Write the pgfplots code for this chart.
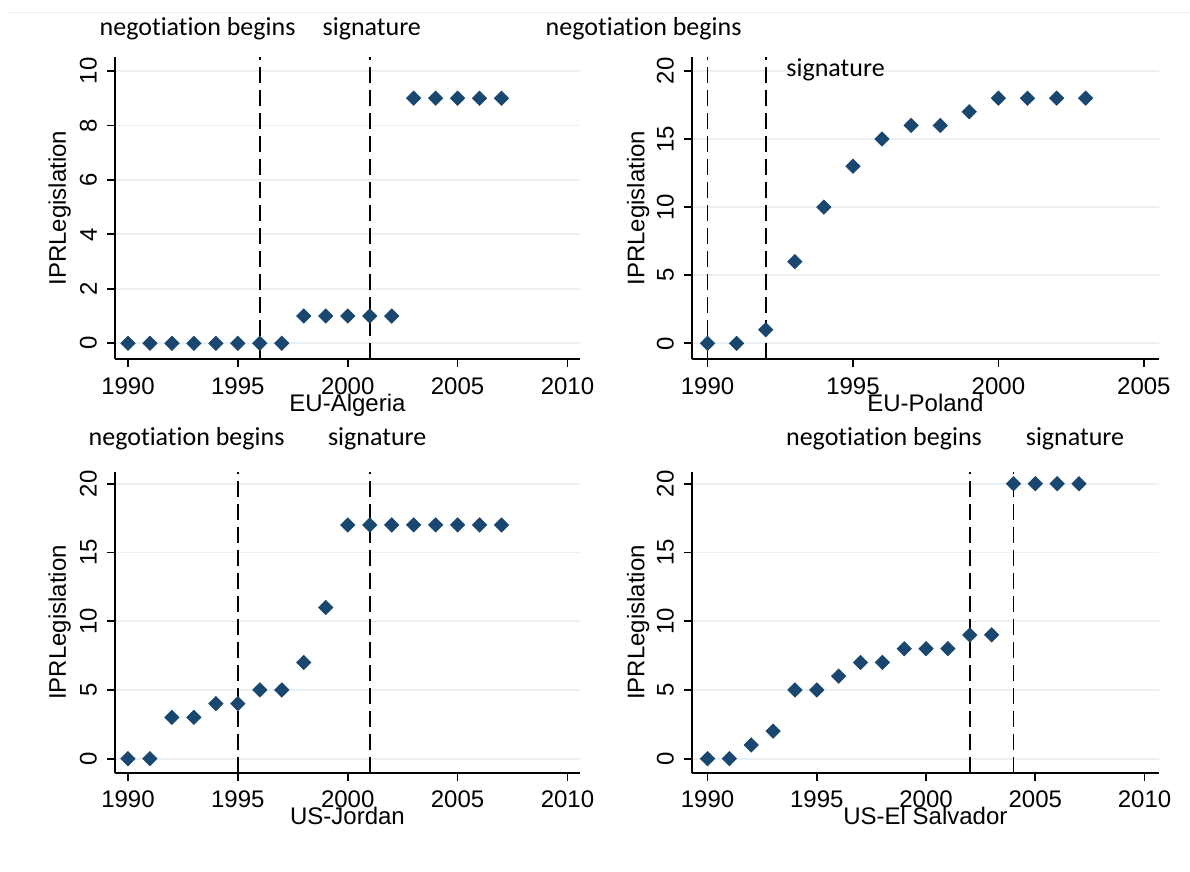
\documentclass[border=0pt]{standalone}
\usepackage{pgfplots}
\pgfplotsset{compat=1.18}
\usepackage{fontspec}
\setmainfont{Liberation Sans}
\newfontfamily\calfont[Ligatures=CommonOff]{Carlito}
\definecolor{stblue}{RGB}{26,71,111}
\definecolor{stgrid}{RGB}{234,240,244}
\pgfplotsset{
  panel/.style={
    scale only axis,
    anchor=south west,
    axis x line*=bottom, axis y line*=left,
    axis line style={line width=0.9pt, -},
    tick style={line width=0.9pt, black},
    major tick length=4pt,
    tick align=outside,
    ymajorgrids, grid style={stgrid, line width=0.9pt},
    /pgf/number format/1000 sep={},
    /pgf/number format/assume math mode=true,
    tick label style={font=\fontsize{12}{14}\selectfont},
    yticklabel style={rotate=90, anchor=south},
    xticklabel shift=1.5pt,
    yticklabel shift=1.5pt,
    clip=false,
  },
  pts/.style={only marks, mark=square*, mark size=2.5pt, color=stblue,
    mark options={rotate=45, fill=stblue, draw=stblue}},
  evt/.style={black, line width=0.9pt, dash pattern=on 8pt off 3.5pt, mark=none},
}
\begin{document}
\begin{tikzpicture}
\path[use as bounding box, fill=white] (0,0) rectangle (595pt,436pt);
\draw[stgrid, line width=0.6pt] (3.5pt,429.6pt) -- (595pt,429.6pt);

% EU-Algeria
\begin{axis}[panel, at={(57.5pt,256.35pt)}, width=232.5pt, height=151pt,
  xmin=1989.41, xmax=2010.57, ymin=-0.588, ymax=10.503,
  xtick={1990,1995,...,2010}, ytick={0,2,...,10}]
\addplot[evt] coordinates {(1996,-0.588) (1996,10.503)};
\addplot[evt] coordinates {(2001,-0.588) (2001,10.503)};
\addplot[pts] coordinates {(1990,0) (1991,0) (1992,0) (1993,0) (1994,0) (1995,0) (1996,0) (1997,0)
 (1998,1) (1999,1) (2000,1) (2001,1) (2002,1)
 (2003,9) (2004,9) (2005,9) (2006,9) (2007,9)};
\end{axis}

% EU-Poland
\begin{axis}[panel, at={(345.9pt,256.35pt)}, width=233.6pt, height=151pt,
  xmin=1989.46, xmax=2005.52, ymin=-1.17, ymax=21.0,
  xtick={1990,1995,...,2005}, ytick={0,5,...,20}]
\addplot[evt] coordinates {(1990,-1.17) (1990,21.0)};
\addplot[evt] coordinates {(1992,-1.17) (1992,21.0)};
\addplot[pts] coordinates {(1990,0) (1991,0) (1992,1) (1993,6) (1994,10) (1995,13) (1996,15)
 (1997,16) (1998,16) (1999,17) (2000,18) (2001,18) (2002,18) (2003,18)};
\end{axis}

% US-Jordan
\begin{axis}[panel, at={(57.5pt,49.65pt)}, width=232.5pt, height=150.2pt,
  xmin=1989.41, xmax=2010.57, ymin=-1.02, ymax=20.83,
  xtick={1990,1995,...,2010}, ytick={0,5,...,20}]
\addplot[evt] coordinates {(1995,-1.02) (1995,20.83)};
\addplot[evt] coordinates {(2001,-1.02) (2001,20.83)};
\addplot[pts] coordinates {(1990,0) (1991,0) (1992,3) (1993,3) (1994,4) (1995,4) (1996,5)
 (1997,5) (1998,7) (1999,11) (2000,17) (2001,17) (2002,17) (2003,17) (2004,17)
 (2005,17) (2006,17) (2007,17)};
\end{axis}

% US-El Salvador
\begin{axis}[panel, at={(345.9pt,49.65pt)}, width=233.6pt, height=150.2pt,
  xmin=1989.28, xmax=2010.66, ymin=-1.02, ymax=20.83,
  xtick={1990,1995,...,2010}, ytick={0,5,...,20}]
\addplot[evt] coordinates {(2002,-1.02) (2002,20.83)};
\addplot[evt] coordinates {(2004,-1.02) (2004,20.83)};
\addplot[pts] coordinates {(1990,0) (1991,0) (1992,1) (1993,2) (1994,5) (1995,5) (1996,6)
 (1997,7) (1998,7) (1999,8) (2000,8) (2001,8) (2002,9) (2003,9)
 (2004,20) (2005,20) (2006,20) (2007,20)};
\end{axis}

% annotations
\begin{scope}[every node/.style={font=\calfont\fontsize{13}{15}\selectfont, anchor=base, inner sep=0pt}]
\node at (98.8pt,418pt) {negotiation begins};
\node at (185.9pt,418pt) {signature};
\node at (321.8pt,418pt) {negotiation begins};
\node at (417.8pt,397.5pt) {signature};
\node at (93.3pt,213pt) {negotiation begins};
\node at (188.6pt,213pt) {signature};
\node at (442pt,213pt) {negotiation begins};
\node at (537.5pt,213pt) {signature};
\end{scope}

\begin{scope}[every node/.style={font=\fontsize{12}{14}\selectfont, anchor=base, inner sep=0pt}]
\node at (173.75pt,230.2pt) {EU-Algeria};
\node at (462.7pt,230.2pt) {EU-Poland};
\node at (173.75pt,23.5pt) {US-Jordan};
\node at (462.7pt,23.5pt) {US-El Salvador};
\node[rotate=90] at (32.9pt,331.85pt) {IPRLegislation};
\node[rotate=90] at (322.15pt,331.85pt) {IPRLegislation};
\node[rotate=90] at (32.9pt,124.75pt) {IPRLegislation};
\node[rotate=90] at (322.15pt,124.75pt) {IPRLegislation};
\end{scope}
\end{tikzpicture}
\end{document}
